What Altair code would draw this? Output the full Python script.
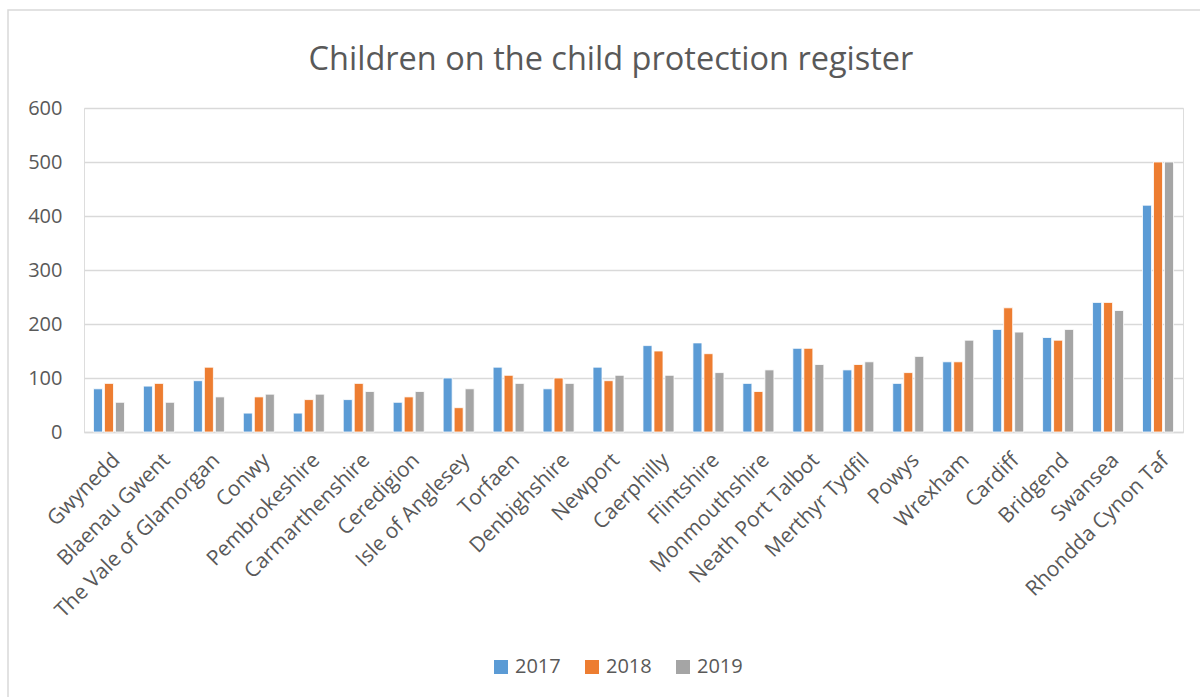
import altair as alt
import pandas as pd

areas = ["Gwynedd", "Blaenau Gwent", "The Vale of Glamorgan", "Conwy", "Pembrokeshire",
         "Carmarthenshire", "Ceredigion", "Isle of Anglesey", "Torfaen", "Denbighshire",
         "Newport", "Caerphilly", "Flintshire", "Monmouthshire", "Neath Port Talbot",
         "Merthyr Tydfil", "Powys", "Wrexham", "Cardiff", "Bridgend", "Swansea",
         "Rhondda Cynon Taf"]
years = ["2017", "2018", "2019"]
v2017 = [80, 85, 95, 35, 35, 60, 55, 100, 120, 80, 120, 160, 165, 90, 155, 115, 90, 130, 190, 175, 240, 420]
v2018 = [90, 90, 120, 65, 60, 90, 65, 45, 105, 100, 95, 150, 145, 75, 155, 125, 110, 130, 230, 170, 240, 500]
v2019 = [55, 55, 65, 70, 70, 75, 75, 80, 90, 90, 105, 105, 110, 115, 125, 130, 140, 170, 185, 190, 225, 500]
colors = ["#5B9BD5", "#ED7D31", "#A5A5A5"]
title_text = "Children on the child protection register"

rows = []
for i, a in enumerate(areas):
    for y, vals in zip(years, [v2017, v2018, v2019]):
        rows.append({"area": a, "year": y, "value": vals[i]})
df = pd.DataFrame(rows)

FONT = "Open Sans"
TXT = "#595959"
W, H = 1099, 324

border = alt.Chart(pd.DataFrame({"d": [0]})).mark_rect(
    fill=None, stroke="#d9d9d9", strokeWidth=1.5
).encode(
    x=alt.value(-76), x2=alt.value(1125), y=alt.value(-98), y2=alt.value(600)
)

title = alt.Chart(pd.DataFrame({"t": [title_text]})).mark_text(
    font=FONT, fontSize=32.5, color=TXT, align="center", baseline="alphabetic"
).encode(text="t:N", x=alt.value(527), y=alt.value(-38))

bars = alt.Chart(df).mark_bar(stroke="white", strokeWidth=0.8).encode(
    x=alt.X("area:N", sort=areas, title=None,
            scale=alt.Scale(paddingInner=0, paddingOuter=0),
            axis=alt.Axis(labelAngle=-45, labelFontSize=21, labelColor=TXT, labelFont=FONT,
                          ticks=False, domainColor="#d9d9d9", domainWidth=1.5,
                          labelPadding=17, labelLimit=400)),
    xOffset=alt.XOffset("year:N", scale=alt.Scale(paddingInner=0.18, paddingOuter=0.86)),
    y=alt.Y("value:Q", title=None,
            scale=alt.Scale(domain=[0, 600], nice=False),
            axis=alt.Axis(values=[0, 100, 200, 300, 400, 500, 600], labelFontSize=20,
                          labelColor=TXT, labelFont=FONT, ticks=False, domain=False,
                          gridColor="#d9d9d9", gridWidth=1.5, labelPadding=22)),
    color=alt.Color("year:N", scale=alt.Scale(domain=years, range=colors),
                    legend=alt.Legend(title=None, orient="none", direction="horizontal",
                                      legendX=407, legendY=549, symbolType="square",
                                      symbolSize=196, symbolStrokeWidth=0,
                                      labelFontSize=20, labelColor=TXT, labelFont=FONT,
                                      columnPadding=21, symbolOffset=0, labelOffset=4)),
)

chart = alt.layer(border, title, bars).properties(
    width=W, height=H,
    autosize=alt.AutoSizeParams(type="none"),
    padding={"left": 84, "top": 108, "right": 17, "bottom": 265},
).configure_view(stroke=None).configure(background="white")

chart.save("out.html", embed_options={"renderer": "svg", "actions": False})
